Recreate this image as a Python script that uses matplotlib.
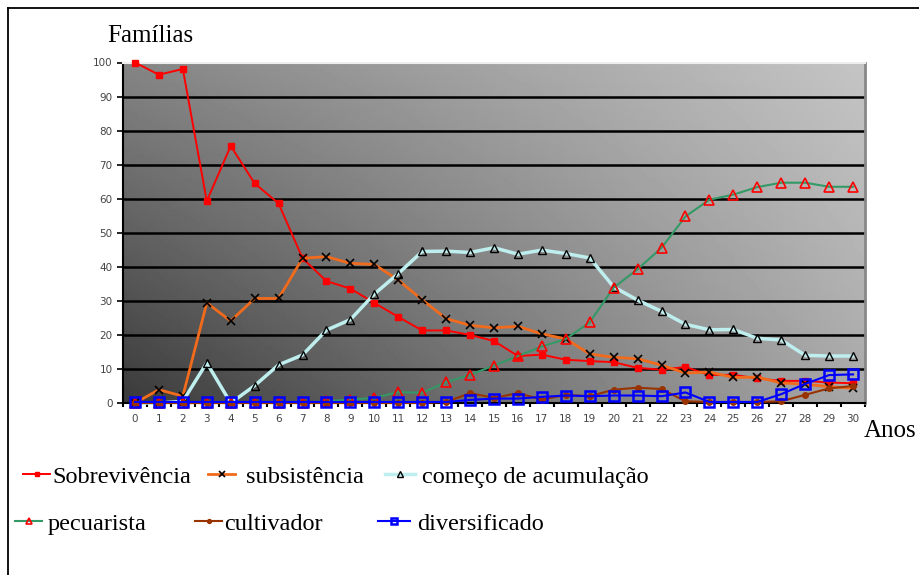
import numpy as np
import matplotlib.pyplot as plt
from matplotlib.lines import Line2D

anos = list(range(0, 31))
sobrevivencia = [100, 96.4, 98.1, 59.3, 75.5, 64.5, 58.6, 42.5, 35.8, 33.6, 29.4, 25.3, 21.3, 21.3, 20.0, 18.2,
                 13.8, 14.2, 12.7, 12.3, 12.0, 10.3, 9.8, 10.6, 8.2, 8.3, 7.2, 6.5, 6.5, 6.0, 5.8]
subsistencia = [0, 3.9, 2.0, 29.4, 24.1, 30.7, 30.7, 42.5, 43.0, 41.0, 40.7, 36.1, 30.3, 24.8, 22.8, 22.1,
                22.5, 20.3, 18.8, 14.4, 13.4, 13.0, 11.1, 8.8, 9.1, 7.5, 7.6, 5.9, 5.5, 4.8, 4.3]
comeco = [0, 0, 0.5, 11.8, 0, 5.1, 11.2, 14.1, 21.4, 24.5, 32.0, 38.0, 44.5, 44.6, 44.2, 45.6,
          43.7, 44.9, 43.9, 42.6, 34.1, 30.2, 26.9, 23.1, 21.5, 21.6, 19.0, 18.5, 14.0, 13.8, 13.8]
pecuarista = [0, 0, 0, 0, 0, 0, 0, 0, 0.5, 1.0, 1.5, 3.2, 3.0, 6.1, 8.3, 11.0,
              13.8, 16.6, 18.8, 23.7, 33.9, 39.3, 45.6, 54.8, 59.7, 61.2, 63.4, 64.7, 64.7, 63.5, 63.5]
cultivador = [0, 0, 0, 0, 0, 0, 0, 0, 0, 0, 0, 0, 0, 0.3, 2.9, 1.5,
              2.9, 1.0, 2.4, 2.0, 3.9, 4.5, 4.1, 0.5, 0.3, 0.3, 0.3, 0.5, 2.4, 4.3, 5.0]
diversificado = [0.3, 0.3, 0.3, 0.3, 0.3, 0.3, 0.3, 0.3, 0.3, 0.3, 0.3, 0.3, 0.3, 0.3, 0.9, 1.3,
                 1.3, 1.8, 2.2, 2.0, 2.2, 2.2, 2.0, 3.1, 0.3, 0.3, 0.3, 2.6, 5.6, 8.2, 8.4]
yticks = list(range(0, 101, 10))

serif = 'Liberation Serif'

fig = plt.figure(figsize=(9.19, 5.75), dpi=100)
ax = fig.add_axes([123/919, 1-403/575, 742/919, 340.5/575])

# gradient background (dark bottom-left -> light top-right)
u = np.linspace(0, 1, 200)
w = np.linspace(0, 1, 100)
U, W = np.meshgrid(u, w)
BL, BR, TL, TR = 0.23, 0.66, 0.52, 0.77
grad = BL*(1-U)*(1-W) + BR*U*(1-W) + TL*(1-U)*W + TR*U*W
ax.imshow(grad, cmap='gray', vmin=0, vmax=1, origin='lower', aspect='auto',
          extent=[0, 1, 0, 1], transform=ax.transAxes, zorder=0)

for y in yticks[1:-1]:
    ax.axhline(y, color='black', lw=1.8, zorder=1)

ax.plot(anos, sobrevivencia, color='#ff0000', lw=1.4, marker='s', ms=4.5, mfc='#ff0000', mec='#ff0000',
        zorder=3, clip_on=False, label='Sobrevivência')
ax.plot(anos, subsistencia, color='#f26a1b', lw=2, marker='x', ms=6, mec='black', mew=1.2,
        zorder=3, clip_on=False, label='subsistência')
ax.plot(anos, comeco, color='#bfeeee', lw=2.5, marker='^', ms=6, mfc='none', mec='black', mew=1,
        zorder=3, clip_on=False, label='começo de acumulação')
ax.plot(anos, pecuarista, color='#339966', lw=1.5, marker='^', ms=7, mfc='none', mec='#ff0000', mew=1.2,
        zorder=3, clip_on=False, label='pecuarista')
ax.plot(anos, cultivador, color='#993300', lw=1.5, marker='o', ms=4, mfc='#993300', mec='#993300',
        zorder=3, clip_on=False, label='cultivador')
ax.plot(anos, diversificado, color='#0000ff', lw=1.5, marker='s', ms=7, mfc='none', mec='#0000ff', mew=1.8,
        zorder=4, clip_on=False, label='diversificado')

ax.set_xlim(-0.5, 30.5)
ax.set_ylim(0, 100)
ax.set_yticks(yticks)
ax.set_xticks(anos)
ax.set_xticks(np.arange(-0.5, 31, 1), minor=True)
ax.tick_params(axis='both', which='major', labelsize=7.5, labelcolor='#444444', length=4, width=1.2)
ax.tick_params(axis='x', which='major', length=0, pad=8)
ax.tick_params(axis='x', which='minor', length=3, width=1.5)
for lab in ax.get_xticklabels() + ax.get_yticklabels():
    lab.set_family('DejaVu Sans')

ax.spines['left'].set_color('black')
ax.spines['left'].set_linewidth(1.5)
ax.spines['bottom'].set_color('black')
ax.spines['bottom'].set_linewidth(1.5)
ax.spines['top'].set_color('#eeeeee')
ax.spines['top'].set_linewidth(1.5)
ax.spines['right'].set_color('#888888')
ax.spines['right'].set_linewidth(2)

fig.text(107/919, 1-41.7/575, 'Famílias', family=serif, fontsize=18, va='baseline')
fig.text(864/919, 1-437/575, 'Anos', family=serif, fontsize=18, va='baseline')

# outer frame
fig.add_artist(Line2D([8/919, 8/919], [0, 1-8/575], color='black', lw=1.3, transform=fig.transFigure))
fig.add_artist(Line2D([8/919, 1], [1-8/575, 1-8/575], color='black', lw=1.3, transform=fig.transFigure))

# legend, laid out like the original (two rows)
handles = ax.get_lines()[-6:]
legend_pos = [(23, 50, 52, 483), (208, 235, 246, 483), (385, 415, 422, 483),
              (15, 42, 48, 530), (195, 222, 224, 530), (378, 410, 417, 530)]
for h, (x1, x2, xt, yb) in zip(handles, legend_pos):
    ym = yb - 9
    fig.add_artist(Line2D([x1/919, x2/919], [1-ym/575, 1-ym/575], color=h.get_color(), lw=h.get_linewidth(),
                          transform=fig.transFigure))
    fig.add_artist(Line2D([(x1+x2)/2/919], [1-ym/575], marker=h.get_marker(), ms=h.get_markersize()*0.7,
                          mfc=h.get_markerfacecolor(), mec=h.get_markeredgecolor(), mew=h.get_markeredgewidth(),
                          transform=fig.transFigure))
    fig.text(xt/919, 1-yb/575, h.get_label(), family=serif, fontsize=17.5, va='baseline')

fig.savefig('out.png')
